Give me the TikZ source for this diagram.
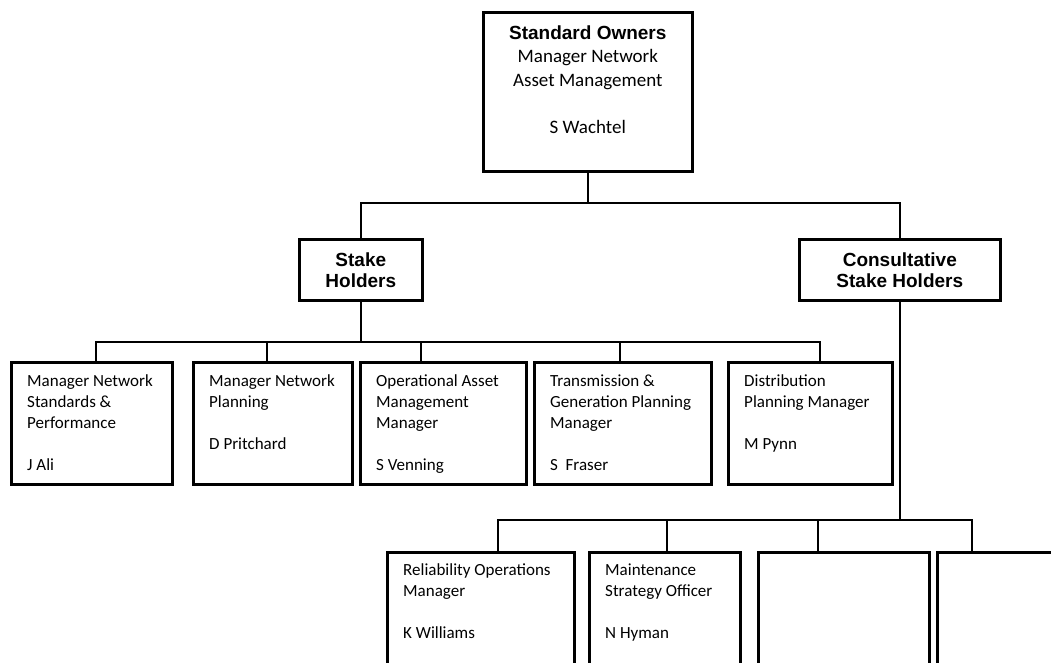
\documentclass[tikz,border=0pt]{standalone}
\usepackage{fontspec}
\setmainfont{Carlito}
\newfontfamily\headfont{Liberation Sans}
\usetikzlibrary{calc}

\begin{document}
\begin{tikzpicture}[x=1pt,y=-1pt,
  box/.style={draw, line width=2.6pt, anchor=north west, inner sep=0pt},
  headbox/.style={box, align=center, font=\headfont\bfseries\fontsize{19}{21}\selectfont},
  link/.style={line width=2pt},
  body/.style={anchor=north west, inner sep=0pt, align=left,
    font=\fontsize{17}{21}\selectfont},
  toptext/.style={anchor=north, inner sep=0pt, align=center,
    font=\fontsize{19}{23.5}\selectfont}]

\clip (0,0) rectangle (1051,663);
\fill[white] (0,0) rectangle (1051,663);

% ---- top level ----
\node[box, minimum width=209pt, minimum height=159pt] (top) at (482,11) {};
\node[toptext] (toplbl) at ($(top.north)+(0,11.5)$)
  {\strut{\headfont\bfseries Standard Owners}\\Manager Network\\Asset Management\\\mbox{}\\S Wachtel};

% ---- second level ----
\node[headbox, minimum width=123pt, minimum height=61pt] (stake) at (298,238) {Stake\\Holders};
\node[headbox, minimum width=201pt, minimum height=61pt] (cons) at (798,238) {Consultative\\Stake Holders};

\coordinate (j0) at (589,203);
\draw[link] (top.south) -- (top.south |- j0);
\draw[link] (stake.north) |- (j0) -| (cons.north);

% ---- stake holder boxes ----
\node[box, minimum width=161pt, minimum height=122pt] (b1) at (10,361) {};
\node[box, minimum width=159pt, minimum height=122pt] (b2) at (192,361) {};
\node[box, minimum width=166pt, minimum height=122pt] (b3) at (359,361) {};
\node[box, minimum width=177pt, minimum height=122pt] (b4) at (533,361) {};
\node[box, minimum width=164pt, minimum height=122pt] (b5) at (727,361) {};

\node[body] (t1) at ($(b1.north west)+(17,11)$) {\strut Manager Network\\Standards \&\\Performance\\\mbox{}\\J Ali};
\node[body] (t2) at ($(b2.north west)+(17,11)$) {\strut Manager Network\\Planning\\\mbox{}\\D Pritchard};
\node[body] (t3) at ($(b3.north west)+(17,11)$) {\strut Operational Asset\\Management\\Manager\\\mbox{}\\S Venning};
\node[body] (t4) at ($(b4.north west)+(17,11)$) {\strut Transmission \&\\Generation Planning\\Manager\\\mbox{}\\S\ \ Fraser};
\node[body] (t5) at ($(b5.north west)+(17,11)$) {\strut Distribution\\Planning Manager\\\mbox{}\\M Pynn};

\coordinate (j1) at (359,342);
\coordinate (a1) at ($(b1.north west)+(86,0)$);
\coordinate (a2) at ($(b2.north west)+(75,0)$);
\coordinate (a3) at ($(b3.north west)+(62,0)$);
\coordinate (a4) at ($(b4.north west)+(87,0)$);
\coordinate (a5) at ($(b5.north west)+(93,0)$);
\draw[link] (stake.south) -- (stake.south |- j1);
\draw[link] (a1) |- (j1) -| (a5);
\draw[link] (a2) -- (a2 |- j1);
\draw[link] (a3) -- (a3 |- j1);
\draw[link] (a4) -- (a4 |- j1);

% ---- consultative stake holder boxes ----
\node[box, minimum width=187pt, minimum height=160pt] (c1) at (386,551) {};
\node[box, minimum width=151pt, minimum height=160pt] (c2) at (588,551) {};
\node[box, minimum width=171pt, minimum height=160pt] (c3) at (757,551) {};
\node[box, minimum width=164pt, minimum height=160pt] (c4) at (936,551) {};

\node[body] (s1) at ($(c1.north west)+(17,10)$) {\strut Reliability Operations\\Manager\\\mbox{}\\K Williams};
\node[body] (s2) at ($(c2.north west)+(17,10)$) {\strut Maintenance\\Strategy Officer\\\mbox{}\\N Hyman};

\coordinate (j2) at (898.5,520);
\coordinate (d1) at ($(c1.north west)+(112,0)$);
\coordinate (d2) at ($(c2.north west)+(79,0)$);
\coordinate (d3) at ($(c3.north west)+(61,0)$);
\coordinate (d4) at ($(c4.north west)+(36,0)$);
\draw[link] (cons.south) -- (cons.south |- j2);
\draw[link] (d1) |- (j2) -| (d4);
\draw[link] (d2) -- (d2 |- j2);
\draw[link] (d3) -- (d3 |- j2);
\end{tikzpicture}
\end{document}
